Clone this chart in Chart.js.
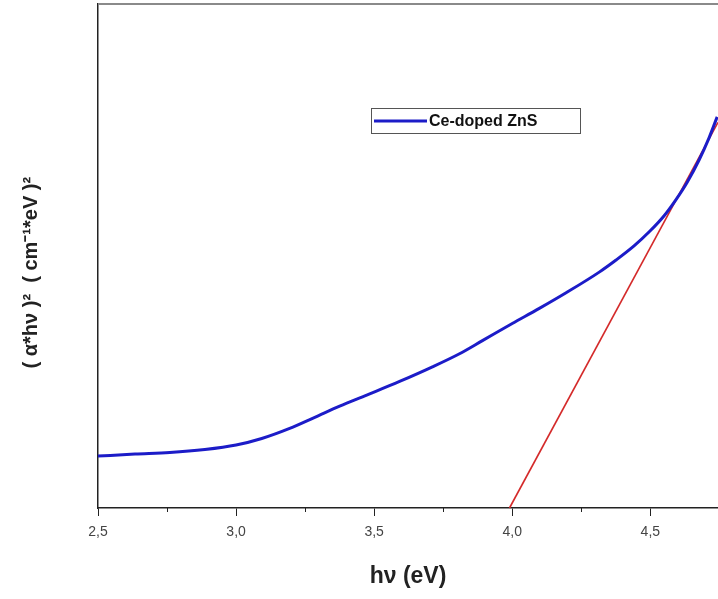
<!DOCTYPE html>
<html>
<head>
<meta charset="utf-8">
<script src="https://cdn.jsdelivr.net/npm/chart.js@4/dist/chart.umd.min.js"></script>
<style>
html,body{margin:0;padding:0;background:#fff;}
#wrap{width:718px;height:599px;position:relative;}
</style>
</head>
<body>
<div id="wrap"><canvas id="c" width="718" height="599"></canvas></div>
<script>
const seriesLabel = 'Ce-doped ZnS';
const energyEV = [2.50, 2.634, 2.76, 2.887, 3.00, 3.093, 3.194, 3.285, 3.375, 3.473, 3.592, 3.711, 3.809, 3.892, 4.00, 4.098, 4.195, 4.315, 4.376, 4.441, 4.496, 4.55, 4.593, 4.633, 4.676, 4.713, 4.742];
const absorption = [10.3, 10.7, 11.0, 11.6, 12.5, 13.8, 15.8, 18.0, 20.2, 22.4, 25.1, 28.0, 30.6, 33.2, 36.6, 39.6, 42.7, 46.8, 49.2, 52.0, 54.8, 58.0, 61.2, 64.6, 69.0, 73.5, 77.6];
const fitEV = [3.99, 4.745];
const fitY = [0, 76.5];
const majorTicks = [2.5, 3.0, 3.5, 4.0, 4.5];
const minorTicks = [2.75, 3.25, 3.75, 4.25];

const curve = energyEV.map((x, i) => ({x: x, y: absorption[i]}));
const fit = fitEV.map((x, i) => ({x: x, y: fitY[i]}));

const framePlugin = {
  id: 'frame',
  afterDraw(chart) {
    const ctx = chart.ctx;
    const a = chart.chartArea;
    const xs = chart.scales.x;
    ctx.save();
    ctx.strokeStyle = '#8a8a8a';
    ctx.lineWidth = 2;
    ctx.beginPath();
    ctx.moveTo(a.left, a.top);
    ctx.lineTo(a.right, a.top);
    ctx.stroke();
    ctx.strokeStyle = '#222';
    ctx.lineWidth = 1;
    minorTicks.forEach(v => {
      const px = Math.round(xs.getPixelForValue(v)) + 0.5;
      ctx.beginPath();
      ctx.moveTo(px, a.bottom);
      ctx.lineTo(px, a.bottom + 4);
      ctx.stroke();
    });
    const lx = 371, ly = 108, lw = 209, lh = 25;
    ctx.fillStyle = '#fff';
    ctx.fillRect(lx, ly, lw, lh);
    ctx.strokeStyle = '#555';
    ctx.lineWidth = 1;
    ctx.strokeRect(lx + 0.5, ly + 0.5, lw, lh);
    ctx.strokeStyle = chart.data.datasets[0].borderColor;
    ctx.lineWidth = 3;
    ctx.beginPath();
    ctx.moveTo(lx + 3, ly + 13);
    ctx.lineTo(lx + 56, ly + 13);
    ctx.stroke();
    ctx.fillStyle = '#111';
    ctx.font = 'bold 16px "Liberation Sans", Arial, sans-serif';
    ctx.textBaseline = 'middle';
    ctx.fillText(chart.data.datasets[0].label, lx + 58, ly + 14);
    ctx.restore();
  }
};

new Chart(document.getElementById('c'), {
  type: 'scatter',
  data: {
    datasets: [
      {label: seriesLabel, data: curve, showLine: true, borderColor: '#1c1cc8', borderWidth: 3, pointRadius: 0, cubicInterpolationMode: 'monotone', fill: false},
      {label: 'fit', data: fit, showLine: true, borderColor: '#d42a2a', borderWidth: 1.6, pointRadius: 0, fill: false}
    ]
  },
  options: {
    responsive: false,
    animation: false,
    clip: false,
    layout: {padding: {left: 0, right: 0, top: 4, bottom: 0}},
    plugins: {legend: {display: false}, tooltip: {enabled: false}},
    scales: {
      x: {
        type: 'linear',
        min: 2.5,
        max: 4.745,
        afterBuildTicks(scale) { scale.ticks = majorTicks.map(v => ({value: v})); },
        afterFit(scale) { scale.height = 91; },
        grid: {display: true, drawOnChartArea: false, drawTicks: true, tickLength: 8, color: '#222', tickWidth: 1},
        border: {display: true, color: '#222', width: 1.5},
        ticks: {
          color: '#444',
          padding: 8,
          font: {family: '"Liberation Sans", Arial, sans-serif', size: 14},
          callback: v => v.toFixed(1).replace('.', ',')
        },
        title: {
          display: true,
          text: 'hν (eV)',
          color: '#222',
          font: {family: '"Liberation Sans", Arial, sans-serif', size: 23, weight: 'bold'},
          padding: {top: 0, bottom: 9}
        }
      },
      y: {
        type: 'linear',
        min: 0,
        max: 100,
        afterFit(scale) { scale.width = 98; },
        grid: {display: false, drawTicks: false},
        border: {display: true, color: '#222', width: 1.5},
        ticks: {display: false},
        title: {
          display: true,
          text: '( α*hν )²  ( cm⁻¹*eV )²      ',
          color: '#222',
          font: {family: '"Liberation Sans", Arial, sans-serif', size: 20, weight: 'bold'},
          padding: {top: 19, bottom: 0}
        }
      }
    }
  },
  plugins: [framePlugin]
});
</script>
</body>
</html>
